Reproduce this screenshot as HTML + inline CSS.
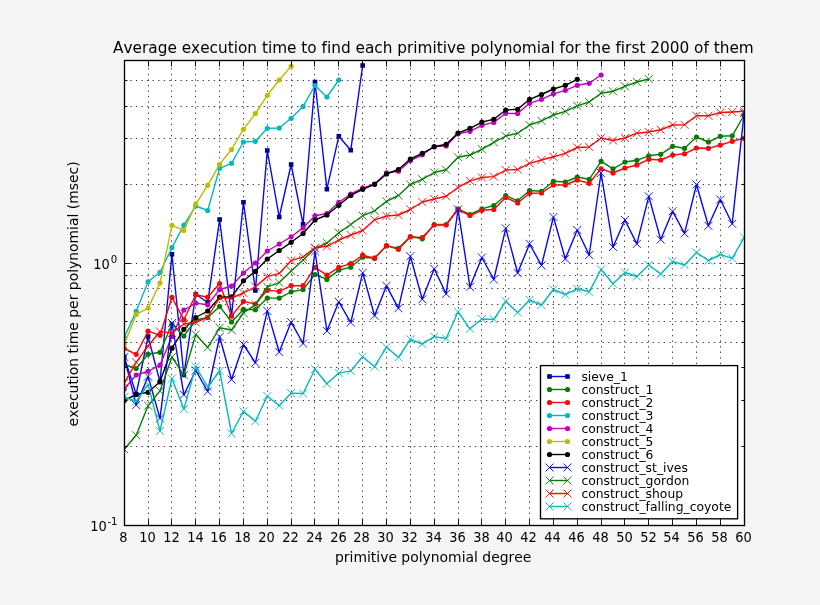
<!DOCTYPE html>
<html><head><meta charset="utf-8"><title>Average execution time</title>
<style>html,body{margin:0;padding:0;background:#f5f5f5}svg{display:block}</style></head>
<body>
<svg width="820" height="605" viewBox="0 0 820 605" style="display:block">
<rect width="820" height="605" fill="#f5f5f5"/>
<rect x="124.5" y="60.5" width="620.0" height="465.0" fill="#ffffff"/>
<path d="M148.50 525.5V60.5M171.50 525.5V60.5M195.50 525.5V60.5M219.50 525.5V60.5M243.50 525.5V60.5M267.50 525.5V60.5M291.50 525.5V60.5M314.50 525.5V60.5M338.50 525.5V60.5M362.50 525.5V60.5M386.50 525.5V60.5M410.50 525.5V60.5M434.50 525.5V60.5M458.50 525.5V60.5M481.50 525.5V60.5M505.50 525.5V60.5M529.50 525.5V60.5M553.50 525.5V60.5M577.50 525.5V60.5M601.50 525.5V60.5M624.50 525.5V60.5M648.50 525.5V60.5M672.50 525.5V60.5M696.50 525.5V60.5M720.50 525.5V60.5M124.5 446.50H744.5M124.5 400.50H744.5M124.5 367.50H744.5M124.5 342.50H744.5M124.5 321.50H744.5M124.5 304.50H744.5M124.5 288.50H744.5M124.5 275.50H744.5M124.5 263.50H744.5M124.5 184.50H744.5M124.5 138.50H744.5M124.5 106.50H744.5M124.5 80.50H744.5" stroke="#000" stroke-width="0.75" stroke-dasharray="1.39 4.166" stroke-dashoffset="-0.3" fill="none"/>
<clipPath id="cp"><rect x="124.5" y="60.5" width="620.0" height="465.0"/></clipPath>
<g clip-path="url(#cp)">
<polyline points="124.25,357.00 136.17,394.30 148.09,336.50 160.01,382.00 171.93,254.30 183.85,375.00 195.78,294.20 207.70,302.50 219.62,219.50 231.54,316.00 243.46,202.30 255.38,290.50 267.30,150.50 279.22,217.00 291.14,164.50 303.06,224.30 314.99,82.00 326.91,189.20 338.83,136.20 350.75,150.20 362.67,65.50" fill="none" stroke="#0808e8" stroke-width="1.4" stroke-linejoin="round"/>
<rect x="121.95" y="354.70" width="4.6" height="4.6" fill="#00008b"/><rect x="133.87" y="392.00" width="4.6" height="4.6" fill="#00008b"/><rect x="145.79" y="334.20" width="4.6" height="4.6" fill="#00008b"/><rect x="157.71" y="379.70" width="4.6" height="4.6" fill="#00008b"/><rect x="169.63" y="252.00" width="4.6" height="4.6" fill="#00008b"/><rect x="181.55" y="372.70" width="4.6" height="4.6" fill="#00008b"/><rect x="193.48" y="291.90" width="4.6" height="4.6" fill="#00008b"/><rect x="205.40" y="300.20" width="4.6" height="4.6" fill="#00008b"/><rect x="217.32" y="217.20" width="4.6" height="4.6" fill="#00008b"/><rect x="229.24" y="313.70" width="4.6" height="4.6" fill="#00008b"/><rect x="241.16" y="200.00" width="4.6" height="4.6" fill="#00008b"/><rect x="253.08" y="288.20" width="4.6" height="4.6" fill="#00008b"/><rect x="265.00" y="148.20" width="4.6" height="4.6" fill="#00008b"/><rect x="276.92" y="214.70" width="4.6" height="4.6" fill="#00008b"/><rect x="288.84" y="162.20" width="4.6" height="4.6" fill="#00008b"/><rect x="300.76" y="222.00" width="4.6" height="4.6" fill="#00008b"/><rect x="312.69" y="79.70" width="4.6" height="4.6" fill="#00008b"/><rect x="324.61" y="186.90" width="4.6" height="4.6" fill="#00008b"/><rect x="336.53" y="133.90" width="4.6" height="4.6" fill="#00008b"/><rect x="348.45" y="147.90" width="4.6" height="4.6" fill="#00008b"/><rect x="360.37" y="63.20" width="4.6" height="4.6" fill="#00008b"/>
<polyline points="124.25,364.50 136.17,368.50 148.09,354.20 160.01,352.30 171.93,324.00 183.85,336.00 195.78,320.00 207.70,317.50 219.62,306.40 231.54,322.00 243.46,309.40 255.38,309.70 267.30,298.10 279.22,298.10 291.14,291.80 303.06,289.60 314.99,274.50 326.91,279.40 338.83,270.10 350.75,267.20 362.67,257.20 374.59,258.20 386.51,245.90 398.43,248.30 410.35,236.50 422.27,238.80 434.20,224.50 446.12,224.50 458.04,208.80 469.96,214.50 481.88,208.80 493.80,205.50 505.72,195.50 517.64,200.80 529.56,190.50 541.48,191.30 553.41,181.30 565.33,182.00 577.25,177.00 589.17,179.30 601.09,161.30 613.01,168.80 624.93,162.00 636.85,160.30 648.77,155.80 660.69,154.30 672.62,146.30 684.54,148.30 696.46,137.00 708.38,142.00 720.30,136.30 732.22,135.80 744.14,115.00" fill="none" stroke="#067c06" stroke-width="1.4" stroke-linejoin="round"/>
<circle cx="124.25" cy="364.50" r="2.6" fill="#067c06"/><circle cx="136.17" cy="368.50" r="2.6" fill="#067c06"/><circle cx="148.09" cy="354.20" r="2.6" fill="#067c06"/><circle cx="160.01" cy="352.30" r="2.6" fill="#067c06"/><circle cx="171.93" cy="324.00" r="2.6" fill="#067c06"/><circle cx="183.85" cy="336.00" r="2.6" fill="#067c06"/><circle cx="195.78" cy="320.00" r="2.6" fill="#067c06"/><circle cx="207.70" cy="317.50" r="2.6" fill="#067c06"/><circle cx="219.62" cy="306.40" r="2.6" fill="#067c06"/><circle cx="231.54" cy="322.00" r="2.6" fill="#067c06"/><circle cx="243.46" cy="309.40" r="2.6" fill="#067c06"/><circle cx="255.38" cy="309.70" r="2.6" fill="#067c06"/><circle cx="267.30" cy="298.10" r="2.6" fill="#067c06"/><circle cx="279.22" cy="298.10" r="2.6" fill="#067c06"/><circle cx="291.14" cy="291.80" r="2.6" fill="#067c06"/><circle cx="303.06" cy="289.60" r="2.6" fill="#067c06"/><circle cx="314.99" cy="274.50" r="2.6" fill="#067c06"/><circle cx="326.91" cy="279.40" r="2.6" fill="#067c06"/><circle cx="338.83" cy="270.10" r="2.6" fill="#067c06"/><circle cx="350.75" cy="267.20" r="2.6" fill="#067c06"/><circle cx="362.67" cy="257.20" r="2.6" fill="#067c06"/><circle cx="374.59" cy="258.20" r="2.6" fill="#067c06"/><circle cx="386.51" cy="245.90" r="2.6" fill="#067c06"/><circle cx="398.43" cy="248.30" r="2.6" fill="#067c06"/><circle cx="410.35" cy="236.50" r="2.6" fill="#067c06"/><circle cx="422.27" cy="238.80" r="2.6" fill="#067c06"/><circle cx="434.20" cy="224.50" r="2.6" fill="#067c06"/><circle cx="446.12" cy="224.50" r="2.6" fill="#067c06"/><circle cx="458.04" cy="208.80" r="2.6" fill="#067c06"/><circle cx="469.96" cy="214.50" r="2.6" fill="#067c06"/><circle cx="481.88" cy="208.80" r="2.6" fill="#067c06"/><circle cx="493.80" cy="205.50" r="2.6" fill="#067c06"/><circle cx="505.72" cy="195.50" r="2.6" fill="#067c06"/><circle cx="517.64" cy="200.80" r="2.6" fill="#067c06"/><circle cx="529.56" cy="190.50" r="2.6" fill="#067c06"/><circle cx="541.48" cy="191.30" r="2.6" fill="#067c06"/><circle cx="553.41" cy="181.30" r="2.6" fill="#067c06"/><circle cx="565.33" cy="182.00" r="2.6" fill="#067c06"/><circle cx="577.25" cy="177.00" r="2.6" fill="#067c06"/><circle cx="589.17" cy="179.30" r="2.6" fill="#067c06"/><circle cx="601.09" cy="161.30" r="2.6" fill="#067c06"/><circle cx="613.01" cy="168.80" r="2.6" fill="#067c06"/><circle cx="624.93" cy="162.00" r="2.6" fill="#067c06"/><circle cx="636.85" cy="160.30" r="2.6" fill="#067c06"/><circle cx="648.77" cy="155.80" r="2.6" fill="#067c06"/><circle cx="660.69" cy="154.30" r="2.6" fill="#067c06"/><circle cx="672.62" cy="146.30" r="2.6" fill="#067c06"/><circle cx="684.54" cy="148.30" r="2.6" fill="#067c06"/><circle cx="696.46" cy="137.00" r="2.6" fill="#067c06"/><circle cx="708.38" cy="142.00" r="2.6" fill="#067c06"/><circle cx="720.30" cy="136.30" r="2.6" fill="#067c06"/><circle cx="732.22" cy="135.80" r="2.6" fill="#067c06"/><circle cx="744.14" cy="115.00" r="2.6" fill="#067c06"/>
<polyline points="124.25,348.50 136.17,354.30 148.09,331.20 160.01,335.30 171.93,297.30 183.85,319.70 195.78,294.80 207.70,297.20 219.62,283.50 231.54,316.00 243.46,301.40 255.38,304.00 267.30,290.30 279.22,291.40 291.14,285.60 303.06,285.70 314.99,267.40 326.91,275.20 338.83,267.40 350.75,263.60 362.67,255.20 374.59,258.20 386.51,245.50 398.43,249.30 410.35,237.00 422.27,237.50 434.20,225.00 446.12,225.00 458.04,209.50 469.96,215.50 481.88,210.30 493.80,209.50 505.72,197.50 517.64,203.00 529.56,193.30 541.48,193.00 553.41,185.00 565.33,185.00 577.25,180.00 589.17,183.30 601.09,168.80 613.01,173.00 624.93,168.00 636.85,165.00 648.77,159.30 660.69,160.00 672.62,155.00 684.54,153.80 696.46,148.00 708.38,148.30 720.30,145.00 732.22,141.30 744.14,138.30" fill="none" stroke="#f40a0a" stroke-width="1.4" stroke-linejoin="round"/>
<circle cx="124.25" cy="348.50" r="2.6" fill="#f40a0a"/><circle cx="136.17" cy="354.30" r="2.6" fill="#f40a0a"/><circle cx="148.09" cy="331.20" r="2.6" fill="#f40a0a"/><circle cx="160.01" cy="335.30" r="2.6" fill="#f40a0a"/><circle cx="171.93" cy="297.30" r="2.6" fill="#f40a0a"/><circle cx="183.85" cy="319.70" r="2.6" fill="#f40a0a"/><circle cx="195.78" cy="294.80" r="2.6" fill="#f40a0a"/><circle cx="207.70" cy="297.20" r="2.6" fill="#f40a0a"/><circle cx="219.62" cy="283.50" r="2.6" fill="#f40a0a"/><circle cx="231.54" cy="316.00" r="2.6" fill="#f40a0a"/><circle cx="243.46" cy="301.40" r="2.6" fill="#f40a0a"/><circle cx="255.38" cy="304.00" r="2.6" fill="#f40a0a"/><circle cx="267.30" cy="290.30" r="2.6" fill="#f40a0a"/><circle cx="279.22" cy="291.40" r="2.6" fill="#f40a0a"/><circle cx="291.14" cy="285.60" r="2.6" fill="#f40a0a"/><circle cx="303.06" cy="285.70" r="2.6" fill="#f40a0a"/><circle cx="314.99" cy="267.40" r="2.6" fill="#f40a0a"/><circle cx="326.91" cy="275.20" r="2.6" fill="#f40a0a"/><circle cx="338.83" cy="267.40" r="2.6" fill="#f40a0a"/><circle cx="350.75" cy="263.60" r="2.6" fill="#f40a0a"/><circle cx="362.67" cy="255.20" r="2.6" fill="#f40a0a"/><circle cx="374.59" cy="258.20" r="2.6" fill="#f40a0a"/><circle cx="386.51" cy="245.50" r="2.6" fill="#f40a0a"/><circle cx="398.43" cy="249.30" r="2.6" fill="#f40a0a"/><circle cx="410.35" cy="237.00" r="2.6" fill="#f40a0a"/><circle cx="422.27" cy="237.50" r="2.6" fill="#f40a0a"/><circle cx="434.20" cy="225.00" r="2.6" fill="#f40a0a"/><circle cx="446.12" cy="225.00" r="2.6" fill="#f40a0a"/><circle cx="458.04" cy="209.50" r="2.6" fill="#f40a0a"/><circle cx="469.96" cy="215.50" r="2.6" fill="#f40a0a"/><circle cx="481.88" cy="210.30" r="2.6" fill="#f40a0a"/><circle cx="493.80" cy="209.50" r="2.6" fill="#f40a0a"/><circle cx="505.72" cy="197.50" r="2.6" fill="#f40a0a"/><circle cx="517.64" cy="203.00" r="2.6" fill="#f40a0a"/><circle cx="529.56" cy="193.30" r="2.6" fill="#f40a0a"/><circle cx="541.48" cy="193.00" r="2.6" fill="#f40a0a"/><circle cx="553.41" cy="185.00" r="2.6" fill="#f40a0a"/><circle cx="565.33" cy="185.00" r="2.6" fill="#f40a0a"/><circle cx="577.25" cy="180.00" r="2.6" fill="#f40a0a"/><circle cx="589.17" cy="183.30" r="2.6" fill="#f40a0a"/><circle cx="601.09" cy="168.80" r="2.6" fill="#f40a0a"/><circle cx="613.01" cy="173.00" r="2.6" fill="#f40a0a"/><circle cx="624.93" cy="168.00" r="2.6" fill="#f40a0a"/><circle cx="636.85" cy="165.00" r="2.6" fill="#f40a0a"/><circle cx="648.77" cy="159.30" r="2.6" fill="#f40a0a"/><circle cx="660.69" cy="160.00" r="2.6" fill="#f40a0a"/><circle cx="672.62" cy="155.00" r="2.6" fill="#f40a0a"/><circle cx="684.54" cy="153.80" r="2.6" fill="#f40a0a"/><circle cx="696.46" cy="148.00" r="2.6" fill="#f40a0a"/><circle cx="708.38" cy="148.30" r="2.6" fill="#f40a0a"/><circle cx="720.30" cy="145.00" r="2.6" fill="#f40a0a"/><circle cx="732.22" cy="141.30" r="2.6" fill="#f40a0a"/><circle cx="744.14" cy="138.30" r="2.6" fill="#f40a0a"/>
<polyline points="124.25,337.50 136.17,311.40 148.09,281.80 160.01,272.30 171.93,247.60 183.85,225.20 195.78,206.00 207.70,210.50 219.62,168.30 231.54,163.30 243.46,142.00 255.38,141.30 267.30,128.30 279.22,128.00 291.14,118.30 303.06,106.40 314.99,85.50 326.91,97.00 338.83,80.00" fill="none" stroke="#06b8bc" stroke-width="1.4" stroke-linejoin="round"/>
<circle cx="124.25" cy="337.50" r="2.6" fill="#06b8bc"/><circle cx="136.17" cy="311.40" r="2.6" fill="#06b8bc"/><circle cx="148.09" cy="281.80" r="2.6" fill="#06b8bc"/><circle cx="160.01" cy="272.30" r="2.6" fill="#06b8bc"/><circle cx="171.93" cy="247.60" r="2.6" fill="#06b8bc"/><circle cx="183.85" cy="225.20" r="2.6" fill="#06b8bc"/><circle cx="195.78" cy="206.00" r="2.6" fill="#06b8bc"/><circle cx="207.70" cy="210.50" r="2.6" fill="#06b8bc"/><circle cx="219.62" cy="168.30" r="2.6" fill="#06b8bc"/><circle cx="231.54" cy="163.30" r="2.6" fill="#06b8bc"/><circle cx="243.46" cy="142.00" r="2.6" fill="#06b8bc"/><circle cx="255.38" cy="141.30" r="2.6" fill="#06b8bc"/><circle cx="267.30" cy="128.30" r="2.6" fill="#06b8bc"/><circle cx="279.22" cy="128.00" r="2.6" fill="#06b8bc"/><circle cx="291.14" cy="118.30" r="2.6" fill="#06b8bc"/><circle cx="303.06" cy="106.40" r="2.6" fill="#06b8bc"/><circle cx="314.99" cy="85.50" r="2.6" fill="#06b8bc"/><circle cx="326.91" cy="97.00" r="2.6" fill="#06b8bc"/><circle cx="338.83" cy="80.00" r="2.6" fill="#06b8bc"/>
<polyline points="124.25,389.00 136.17,375.00 148.09,371.30 160.01,365.00 171.93,336.50 183.85,310.00 195.78,303.10 207.70,304.80 219.62,289.40 231.54,286.10 243.46,273.00 255.38,263.00 267.30,251.00 279.22,244.00 291.14,236.80 303.06,227.90 314.99,215.80 326.91,213.50 338.83,202.30 350.75,194.00 362.67,188.20 374.59,184.00 386.51,172.80 398.43,171.20 410.35,160.50 422.27,154.80 434.20,146.50 446.12,146.00 458.04,133.80 469.96,131.30 481.88,125.30 493.80,122.40 505.72,113.30 517.64,113.50 529.56,103.30 541.48,99.30 553.41,93.80 565.33,90.30 577.25,85.30 589.17,83.30 601.09,75.00" fill="none" stroke="#bb06bb" stroke-width="1.4" stroke-linejoin="round"/>
<circle cx="124.25" cy="389.00" r="2.6" fill="#bb06bb"/><circle cx="136.17" cy="375.00" r="2.6" fill="#bb06bb"/><circle cx="148.09" cy="371.30" r="2.6" fill="#bb06bb"/><circle cx="160.01" cy="365.00" r="2.6" fill="#bb06bb"/><circle cx="171.93" cy="336.50" r="2.6" fill="#bb06bb"/><circle cx="183.85" cy="310.00" r="2.6" fill="#bb06bb"/><circle cx="195.78" cy="303.10" r="2.6" fill="#bb06bb"/><circle cx="207.70" cy="304.80" r="2.6" fill="#bb06bb"/><circle cx="219.62" cy="289.40" r="2.6" fill="#bb06bb"/><circle cx="231.54" cy="286.10" r="2.6" fill="#bb06bb"/><circle cx="243.46" cy="273.00" r="2.6" fill="#bb06bb"/><circle cx="255.38" cy="263.00" r="2.6" fill="#bb06bb"/><circle cx="267.30" cy="251.00" r="2.6" fill="#bb06bb"/><circle cx="279.22" cy="244.00" r="2.6" fill="#bb06bb"/><circle cx="291.14" cy="236.80" r="2.6" fill="#bb06bb"/><circle cx="303.06" cy="227.90" r="2.6" fill="#bb06bb"/><circle cx="314.99" cy="215.80" r="2.6" fill="#bb06bb"/><circle cx="326.91" cy="213.50" r="2.6" fill="#bb06bb"/><circle cx="338.83" cy="202.30" r="2.6" fill="#bb06bb"/><circle cx="350.75" cy="194.00" r="2.6" fill="#bb06bb"/><circle cx="362.67" cy="188.20" r="2.6" fill="#bb06bb"/><circle cx="374.59" cy="184.00" r="2.6" fill="#bb06bb"/><circle cx="386.51" cy="172.80" r="2.6" fill="#bb06bb"/><circle cx="398.43" cy="171.20" r="2.6" fill="#bb06bb"/><circle cx="410.35" cy="160.50" r="2.6" fill="#bb06bb"/><circle cx="422.27" cy="154.80" r="2.6" fill="#bb06bb"/><circle cx="434.20" cy="146.50" r="2.6" fill="#bb06bb"/><circle cx="446.12" cy="146.00" r="2.6" fill="#bb06bb"/><circle cx="458.04" cy="133.80" r="2.6" fill="#bb06bb"/><circle cx="469.96" cy="131.30" r="2.6" fill="#bb06bb"/><circle cx="481.88" cy="125.30" r="2.6" fill="#bb06bb"/><circle cx="493.80" cy="122.40" r="2.6" fill="#bb06bb"/><circle cx="505.72" cy="113.30" r="2.6" fill="#bb06bb"/><circle cx="517.64" cy="113.50" r="2.6" fill="#bb06bb"/><circle cx="529.56" cy="103.30" r="2.6" fill="#bb06bb"/><circle cx="541.48" cy="99.30" r="2.6" fill="#bb06bb"/><circle cx="553.41" cy="93.80" r="2.6" fill="#bb06bb"/><circle cx="565.33" cy="90.30" r="2.6" fill="#bb06bb"/><circle cx="577.25" cy="85.30" r="2.6" fill="#bb06bb"/><circle cx="589.17" cy="83.30" r="2.6" fill="#bb06bb"/><circle cx="601.09" cy="75.00" r="2.6" fill="#bb06bb"/>
<polyline points="124.25,344.50 136.17,314.40 148.09,308.10 160.01,283.10 171.93,225.30 183.85,230.40 195.78,204.10 207.70,185.30 219.62,164.30 231.54,149.50 243.46,129.30 255.38,113.50 267.30,95.30 279.22,80.00 291.14,66.30" fill="none" stroke="#bcbc06" stroke-width="1.4" stroke-linejoin="round"/>
<circle cx="124.25" cy="344.50" r="2.6" fill="#bcbc06"/><circle cx="136.17" cy="314.40" r="2.6" fill="#bcbc06"/><circle cx="148.09" cy="308.10" r="2.6" fill="#bcbc06"/><circle cx="160.01" cy="283.10" r="2.6" fill="#bcbc06"/><circle cx="171.93" cy="225.30" r="2.6" fill="#bcbc06"/><circle cx="183.85" cy="230.40" r="2.6" fill="#bcbc06"/><circle cx="195.78" cy="204.10" r="2.6" fill="#bcbc06"/><circle cx="207.70" cy="185.30" r="2.6" fill="#bcbc06"/><circle cx="219.62" cy="164.30" r="2.6" fill="#bcbc06"/><circle cx="231.54" cy="149.50" r="2.6" fill="#bcbc06"/><circle cx="243.46" cy="129.30" r="2.6" fill="#bcbc06"/><circle cx="255.38" cy="113.50" r="2.6" fill="#bcbc06"/><circle cx="267.30" cy="95.30" r="2.6" fill="#bcbc06"/><circle cx="279.22" cy="80.00" r="2.6" fill="#bcbc06"/><circle cx="291.14" cy="66.30" r="2.6" fill="#bcbc06"/>
<polyline points="124.25,400.40 136.17,394.50 148.09,392.30 160.01,381.70 171.93,348.20 183.85,329.30 195.78,317.50 207.70,311.00 219.62,297.20 231.54,296.80 243.46,280.80 255.38,271.30 267.30,259.00 279.22,250.50 291.14,242.30 303.06,233.50 314.99,220.00 326.91,215.00 338.83,205.30 350.75,195.40 362.67,189.30 374.59,184.30 386.51,174.00 398.43,169.50 410.35,159.00 422.27,153.30 434.20,146.80 446.12,144.30 458.04,133.00 469.96,128.30 481.88,122.10 493.80,119.30 505.72,110.00 517.64,109.30 529.56,99.30 541.48,94.50 553.41,89.00 565.33,85.30 577.25,79.30" fill="none" stroke="#000000" stroke-width="1.4" stroke-linejoin="round"/>
<circle cx="124.25" cy="400.40" r="2.6" fill="#000000"/><circle cx="136.17" cy="394.50" r="2.6" fill="#000000"/><circle cx="148.09" cy="392.30" r="2.6" fill="#000000"/><circle cx="160.01" cy="381.70" r="2.6" fill="#000000"/><circle cx="171.93" cy="348.20" r="2.6" fill="#000000"/><circle cx="183.85" cy="329.30" r="2.6" fill="#000000"/><circle cx="195.78" cy="317.50" r="2.6" fill="#000000"/><circle cx="207.70" cy="311.00" r="2.6" fill="#000000"/><circle cx="219.62" cy="297.20" r="2.6" fill="#000000"/><circle cx="231.54" cy="296.80" r="2.6" fill="#000000"/><circle cx="243.46" cy="280.80" r="2.6" fill="#000000"/><circle cx="255.38" cy="271.30" r="2.6" fill="#000000"/><circle cx="267.30" cy="259.00" r="2.6" fill="#000000"/><circle cx="279.22" cy="250.50" r="2.6" fill="#000000"/><circle cx="291.14" cy="242.30" r="2.6" fill="#000000"/><circle cx="303.06" cy="233.50" r="2.6" fill="#000000"/><circle cx="314.99" cy="220.00" r="2.6" fill="#000000"/><circle cx="326.91" cy="215.00" r="2.6" fill="#000000"/><circle cx="338.83" cy="205.30" r="2.6" fill="#000000"/><circle cx="350.75" cy="195.40" r="2.6" fill="#000000"/><circle cx="362.67" cy="189.30" r="2.6" fill="#000000"/><circle cx="374.59" cy="184.30" r="2.6" fill="#000000"/><circle cx="386.51" cy="174.00" r="2.6" fill="#000000"/><circle cx="398.43" cy="169.50" r="2.6" fill="#000000"/><circle cx="410.35" cy="159.00" r="2.6" fill="#000000"/><circle cx="422.27" cy="153.30" r="2.6" fill="#000000"/><circle cx="434.20" cy="146.80" r="2.6" fill="#000000"/><circle cx="446.12" cy="144.30" r="2.6" fill="#000000"/><circle cx="458.04" cy="133.00" r="2.6" fill="#000000"/><circle cx="469.96" cy="128.30" r="2.6" fill="#000000"/><circle cx="481.88" cy="122.10" r="2.6" fill="#000000"/><circle cx="493.80" cy="119.30" r="2.6" fill="#000000"/><circle cx="505.72" cy="110.00" r="2.6" fill="#000000"/><circle cx="517.64" cy="109.30" r="2.6" fill="#000000"/><circle cx="529.56" cy="99.30" r="2.6" fill="#000000"/><circle cx="541.48" cy="94.50" r="2.6" fill="#000000"/><circle cx="553.41" cy="89.00" r="2.6" fill="#000000"/><circle cx="565.33" cy="85.30" r="2.6" fill="#000000"/><circle cx="577.25" cy="79.30" r="2.6" fill="#000000"/>
<polyline points="124.25,357.00 136.17,405.00 148.09,376.50 160.01,418.40 171.93,323.00 183.85,394.70 195.78,370.50 207.70,391.50 219.62,337.00 231.54,379.50 243.46,344.50 255.38,362.80 267.30,310.90 279.22,352.00 291.14,322.10 303.06,343.50 314.99,251.50 326.91,331.00 338.83,301.80 350.75,322.50 362.67,272.80 374.59,315.70 386.51,285.80 398.43,308.30 410.35,256.30 422.27,299.30 434.20,268.80 446.12,293.80 458.04,209.50 469.96,286.80 481.88,257.50 493.80,279.50 505.72,228.30 517.64,273.00 529.56,243.80 541.48,265.50 553.41,217.00 565.33,258.80 577.25,230.00 589.17,255.00 601.09,173.00 613.01,247.00 624.93,220.00 636.85,243.90 648.77,196.30 660.69,239.60 672.62,211.30 684.54,233.40 696.46,184.50 708.38,225.80 720.30,199.50 732.22,223.80 744.14,113.00" fill="none" stroke="#0808e8" stroke-width="1.4" stroke-linejoin="round"/>
<path d="M120.25 353.00L128.25 361.00M120.25 361.00L128.25 353.00" stroke="#0808e8" stroke-width="0.9" fill="none"/><path d="M132.17 401.00L140.17 409.00M132.17 409.00L140.17 401.00" stroke="#0808e8" stroke-width="0.9" fill="none"/><path d="M144.09 372.50L152.09 380.50M144.09 380.50L152.09 372.50" stroke="#0808e8" stroke-width="0.9" fill="none"/><path d="M156.01 414.40L164.01 422.40M156.01 422.40L164.01 414.40" stroke="#0808e8" stroke-width="0.9" fill="none"/><path d="M167.93 319.00L175.93 327.00M167.93 327.00L175.93 319.00" stroke="#0808e8" stroke-width="0.9" fill="none"/><path d="M179.85 390.70L187.85 398.70M179.85 398.70L187.85 390.70" stroke="#0808e8" stroke-width="0.9" fill="none"/><path d="M191.78 366.50L199.78 374.50M191.78 374.50L199.78 366.50" stroke="#0808e8" stroke-width="0.9" fill="none"/><path d="M203.70 387.50L211.70 395.50M203.70 395.50L211.70 387.50" stroke="#0808e8" stroke-width="0.9" fill="none"/><path d="M215.62 333.00L223.62 341.00M215.62 341.00L223.62 333.00" stroke="#0808e8" stroke-width="0.9" fill="none"/><path d="M227.54 375.50L235.54 383.50M227.54 383.50L235.54 375.50" stroke="#0808e8" stroke-width="0.9" fill="none"/><path d="M239.46 340.50L247.46 348.50M239.46 348.50L247.46 340.50" stroke="#0808e8" stroke-width="0.9" fill="none"/><path d="M251.38 358.80L259.38 366.80M251.38 366.80L259.38 358.80" stroke="#0808e8" stroke-width="0.9" fill="none"/><path d="M263.30 306.90L271.30 314.90M263.30 314.90L271.30 306.90" stroke="#0808e8" stroke-width="0.9" fill="none"/><path d="M275.22 348.00L283.22 356.00M275.22 356.00L283.22 348.00" stroke="#0808e8" stroke-width="0.9" fill="none"/><path d="M287.14 318.10L295.14 326.10M287.14 326.10L295.14 318.10" stroke="#0808e8" stroke-width="0.9" fill="none"/><path d="M299.06 339.50L307.06 347.50M299.06 347.50L307.06 339.50" stroke="#0808e8" stroke-width="0.9" fill="none"/><path d="M310.99 247.50L318.99 255.50M310.99 255.50L318.99 247.50" stroke="#0808e8" stroke-width="0.9" fill="none"/><path d="M322.91 327.00L330.91 335.00M322.91 335.00L330.91 327.00" stroke="#0808e8" stroke-width="0.9" fill="none"/><path d="M334.83 297.80L342.83 305.80M334.83 305.80L342.83 297.80" stroke="#0808e8" stroke-width="0.9" fill="none"/><path d="M346.75 318.50L354.75 326.50M346.75 326.50L354.75 318.50" stroke="#0808e8" stroke-width="0.9" fill="none"/><path d="M358.67 268.80L366.67 276.80M358.67 276.80L366.67 268.80" stroke="#0808e8" stroke-width="0.9" fill="none"/><path d="M370.59 311.70L378.59 319.70M370.59 319.70L378.59 311.70" stroke="#0808e8" stroke-width="0.9" fill="none"/><path d="M382.51 281.80L390.51 289.80M382.51 289.80L390.51 281.80" stroke="#0808e8" stroke-width="0.9" fill="none"/><path d="M394.43 304.30L402.43 312.30M394.43 312.30L402.43 304.30" stroke="#0808e8" stroke-width="0.9" fill="none"/><path d="M406.35 252.30L414.35 260.30M406.35 260.30L414.35 252.30" stroke="#0808e8" stroke-width="0.9" fill="none"/><path d="M418.27 295.30L426.27 303.30M418.27 303.30L426.27 295.30" stroke="#0808e8" stroke-width="0.9" fill="none"/><path d="M430.20 264.80L438.20 272.80M430.20 272.80L438.20 264.80" stroke="#0808e8" stroke-width="0.9" fill="none"/><path d="M442.12 289.80L450.12 297.80M442.12 297.80L450.12 289.80" stroke="#0808e8" stroke-width="0.9" fill="none"/><path d="M454.04 205.50L462.04 213.50M454.04 213.50L462.04 205.50" stroke="#0808e8" stroke-width="0.9" fill="none"/><path d="M465.96 282.80L473.96 290.80M465.96 290.80L473.96 282.80" stroke="#0808e8" stroke-width="0.9" fill="none"/><path d="M477.88 253.50L485.88 261.50M477.88 261.50L485.88 253.50" stroke="#0808e8" stroke-width="0.9" fill="none"/><path d="M489.80 275.50L497.80 283.50M489.80 283.50L497.80 275.50" stroke="#0808e8" stroke-width="0.9" fill="none"/><path d="M501.72 224.30L509.72 232.30M501.72 232.30L509.72 224.30" stroke="#0808e8" stroke-width="0.9" fill="none"/><path d="M513.64 269.00L521.64 277.00M513.64 277.00L521.64 269.00" stroke="#0808e8" stroke-width="0.9" fill="none"/><path d="M525.56 239.80L533.56 247.80M525.56 247.80L533.56 239.80" stroke="#0808e8" stroke-width="0.9" fill="none"/><path d="M537.48 261.50L545.48 269.50M537.48 269.50L545.48 261.50" stroke="#0808e8" stroke-width="0.9" fill="none"/><path d="M549.41 213.00L557.41 221.00M549.41 221.00L557.41 213.00" stroke="#0808e8" stroke-width="0.9" fill="none"/><path d="M561.33 254.80L569.33 262.80M561.33 262.80L569.33 254.80" stroke="#0808e8" stroke-width="0.9" fill="none"/><path d="M573.25 226.00L581.25 234.00M573.25 234.00L581.25 226.00" stroke="#0808e8" stroke-width="0.9" fill="none"/><path d="M585.17 251.00L593.17 259.00M585.17 259.00L593.17 251.00" stroke="#0808e8" stroke-width="0.9" fill="none"/><path d="M597.09 169.00L605.09 177.00M597.09 177.00L605.09 169.00" stroke="#0808e8" stroke-width="0.9" fill="none"/><path d="M609.01 243.00L617.01 251.00M609.01 251.00L617.01 243.00" stroke="#0808e8" stroke-width="0.9" fill="none"/><path d="M620.93 216.00L628.93 224.00M620.93 224.00L628.93 216.00" stroke="#0808e8" stroke-width="0.9" fill="none"/><path d="M632.85 239.90L640.85 247.90M632.85 247.90L640.85 239.90" stroke="#0808e8" stroke-width="0.9" fill="none"/><path d="M644.77 192.30L652.77 200.30M644.77 200.30L652.77 192.30" stroke="#0808e8" stroke-width="0.9" fill="none"/><path d="M656.69 235.60L664.69 243.60M656.69 243.60L664.69 235.60" stroke="#0808e8" stroke-width="0.9" fill="none"/><path d="M668.62 207.30L676.62 215.30M668.62 215.30L676.62 207.30" stroke="#0808e8" stroke-width="0.9" fill="none"/><path d="M680.54 229.40L688.54 237.40M680.54 237.40L688.54 229.40" stroke="#0808e8" stroke-width="0.9" fill="none"/><path d="M692.46 180.50L700.46 188.50M692.46 188.50L700.46 180.50" stroke="#0808e8" stroke-width="0.9" fill="none"/><path d="M704.38 221.80L712.38 229.80M704.38 229.80L712.38 221.80" stroke="#0808e8" stroke-width="0.9" fill="none"/><path d="M716.30 195.50L724.30 203.50M716.30 203.50L724.30 195.50" stroke="#0808e8" stroke-width="0.9" fill="none"/><path d="M728.22 219.80L736.22 227.80M728.22 227.80L736.22 219.80" stroke="#0808e8" stroke-width="0.9" fill="none"/><path d="M740.14 109.00L748.14 117.00M740.14 117.00L748.14 109.00" stroke="#0808e8" stroke-width="0.9" fill="none"/>
<polyline points="124.25,449.30 136.17,435.30 148.09,405.70 160.01,390.90 171.93,357.10 183.85,375.10 195.78,334.50 207.70,347.50 219.62,327.80 231.54,330.00 243.46,313.00 255.38,304.50 267.30,286.80 279.22,282.60 291.14,270.90 303.06,260.10 314.99,248.40 326.91,243.00 338.83,232.80 350.75,224.50 362.67,215.70 374.59,210.80 386.51,201.30 398.43,195.50 410.35,184.50 422.27,179.30 434.20,172.50 446.12,169.80 458.04,157.30 469.96,155.00 481.88,149.30 493.80,142.30 505.72,136.00 517.64,133.30 529.56,125.00 541.48,120.80 553.41,115.00 565.33,111.30 577.25,105.80 589.17,102.00 601.09,93.30 613.01,91.30 624.93,86.30 636.85,82.00 648.77,79.00" fill="none" stroke="#067c06" stroke-width="1.4" stroke-linejoin="round"/>
<path d="M120.25 445.30L128.25 453.30M120.25 453.30L128.25 445.30" stroke="#067c06" stroke-width="0.9" fill="none"/><path d="M132.17 431.30L140.17 439.30M132.17 439.30L140.17 431.30" stroke="#067c06" stroke-width="0.9" fill="none"/><path d="M144.09 401.70L152.09 409.70M144.09 409.70L152.09 401.70" stroke="#067c06" stroke-width="0.9" fill="none"/><path d="M156.01 386.90L164.01 394.90M156.01 394.90L164.01 386.90" stroke="#067c06" stroke-width="0.9" fill="none"/><path d="M167.93 353.10L175.93 361.10M167.93 361.10L175.93 353.10" stroke="#067c06" stroke-width="0.9" fill="none"/><path d="M179.85 371.10L187.85 379.10M179.85 379.10L187.85 371.10" stroke="#067c06" stroke-width="0.9" fill="none"/><path d="M191.78 330.50L199.78 338.50M191.78 338.50L199.78 330.50" stroke="#067c06" stroke-width="0.9" fill="none"/><path d="M203.70 343.50L211.70 351.50M203.70 351.50L211.70 343.50" stroke="#067c06" stroke-width="0.9" fill="none"/><path d="M215.62 323.80L223.62 331.80M215.62 331.80L223.62 323.80" stroke="#067c06" stroke-width="0.9" fill="none"/><path d="M227.54 326.00L235.54 334.00M227.54 334.00L235.54 326.00" stroke="#067c06" stroke-width="0.9" fill="none"/><path d="M239.46 309.00L247.46 317.00M239.46 317.00L247.46 309.00" stroke="#067c06" stroke-width="0.9" fill="none"/><path d="M251.38 300.50L259.38 308.50M251.38 308.50L259.38 300.50" stroke="#067c06" stroke-width="0.9" fill="none"/><path d="M263.30 282.80L271.30 290.80M263.30 290.80L271.30 282.80" stroke="#067c06" stroke-width="0.9" fill="none"/><path d="M275.22 278.60L283.22 286.60M275.22 286.60L283.22 278.60" stroke="#067c06" stroke-width="0.9" fill="none"/><path d="M287.14 266.90L295.14 274.90M287.14 274.90L295.14 266.90" stroke="#067c06" stroke-width="0.9" fill="none"/><path d="M299.06 256.10L307.06 264.10M299.06 264.10L307.06 256.10" stroke="#067c06" stroke-width="0.9" fill="none"/><path d="M310.99 244.40L318.99 252.40M310.99 252.40L318.99 244.40" stroke="#067c06" stroke-width="0.9" fill="none"/><path d="M322.91 239.00L330.91 247.00M322.91 247.00L330.91 239.00" stroke="#067c06" stroke-width="0.9" fill="none"/><path d="M334.83 228.80L342.83 236.80M334.83 236.80L342.83 228.80" stroke="#067c06" stroke-width="0.9" fill="none"/><path d="M346.75 220.50L354.75 228.50M346.75 228.50L354.75 220.50" stroke="#067c06" stroke-width="0.9" fill="none"/><path d="M358.67 211.70L366.67 219.70M358.67 219.70L366.67 211.70" stroke="#067c06" stroke-width="0.9" fill="none"/><path d="M370.59 206.80L378.59 214.80M370.59 214.80L378.59 206.80" stroke="#067c06" stroke-width="0.9" fill="none"/><path d="M382.51 197.30L390.51 205.30M382.51 205.30L390.51 197.30" stroke="#067c06" stroke-width="0.9" fill="none"/><path d="M394.43 191.50L402.43 199.50M394.43 199.50L402.43 191.50" stroke="#067c06" stroke-width="0.9" fill="none"/><path d="M406.35 180.50L414.35 188.50M406.35 188.50L414.35 180.50" stroke="#067c06" stroke-width="0.9" fill="none"/><path d="M418.27 175.30L426.27 183.30M418.27 183.30L426.27 175.30" stroke="#067c06" stroke-width="0.9" fill="none"/><path d="M430.20 168.50L438.20 176.50M430.20 176.50L438.20 168.50" stroke="#067c06" stroke-width="0.9" fill="none"/><path d="M442.12 165.80L450.12 173.80M442.12 173.80L450.12 165.80" stroke="#067c06" stroke-width="0.9" fill="none"/><path d="M454.04 153.30L462.04 161.30M454.04 161.30L462.04 153.30" stroke="#067c06" stroke-width="0.9" fill="none"/><path d="M465.96 151.00L473.96 159.00M465.96 159.00L473.96 151.00" stroke="#067c06" stroke-width="0.9" fill="none"/><path d="M477.88 145.30L485.88 153.30M477.88 153.30L485.88 145.30" stroke="#067c06" stroke-width="0.9" fill="none"/><path d="M489.80 138.30L497.80 146.30M489.80 146.30L497.80 138.30" stroke="#067c06" stroke-width="0.9" fill="none"/><path d="M501.72 132.00L509.72 140.00M501.72 140.00L509.72 132.00" stroke="#067c06" stroke-width="0.9" fill="none"/><path d="M513.64 129.30L521.64 137.30M513.64 137.30L521.64 129.30" stroke="#067c06" stroke-width="0.9" fill="none"/><path d="M525.56 121.00L533.56 129.00M525.56 129.00L533.56 121.00" stroke="#067c06" stroke-width="0.9" fill="none"/><path d="M537.48 116.80L545.48 124.80M537.48 124.80L545.48 116.80" stroke="#067c06" stroke-width="0.9" fill="none"/><path d="M549.41 111.00L557.41 119.00M549.41 119.00L557.41 111.00" stroke="#067c06" stroke-width="0.9" fill="none"/><path d="M561.33 107.30L569.33 115.30M561.33 115.30L569.33 107.30" stroke="#067c06" stroke-width="0.9" fill="none"/><path d="M573.25 101.80L581.25 109.80M573.25 109.80L581.25 101.80" stroke="#067c06" stroke-width="0.9" fill="none"/><path d="M585.17 98.00L593.17 106.00M585.17 106.00L593.17 98.00" stroke="#067c06" stroke-width="0.9" fill="none"/><path d="M597.09 89.30L605.09 97.30M597.09 97.30L605.09 89.30" stroke="#067c06" stroke-width="0.9" fill="none"/><path d="M609.01 87.30L617.01 95.30M609.01 95.30L617.01 87.30" stroke="#067c06" stroke-width="0.9" fill="none"/><path d="M620.93 82.30L628.93 90.30M620.93 90.30L628.93 82.30" stroke="#067c06" stroke-width="0.9" fill="none"/><path d="M632.85 78.00L640.85 86.00M632.85 86.00L640.85 78.00" stroke="#067c06" stroke-width="0.9" fill="none"/><path d="M644.77 75.00L652.77 83.00M644.77 83.00L652.77 75.00" stroke="#067c06" stroke-width="0.9" fill="none"/>
<polyline points="124.25,383.00 136.17,362.30 148.09,346.00 160.01,331.50 171.93,333.00 183.85,324.00 195.78,322.50 207.70,317.00 219.62,298.00 231.54,298.00 243.46,293.00 255.38,286.80 267.30,276.60 279.22,273.40 291.14,260.70 303.06,256.90 314.99,247.80 326.91,246.30 338.83,240.00 350.75,235.00 362.67,230.50 374.59,219.80 386.51,216.00 398.43,215.00 410.35,209.50 422.27,202.00 434.20,199.00 446.12,196.30 458.04,187.50 469.96,180.80 481.88,177.50 493.80,176.60 505.72,170.00 517.64,169.50 529.56,163.30 541.48,160.00 553.41,156.80 565.33,153.30 577.25,147.50 589.17,147.00 601.09,138.00 613.01,140.50 624.93,138.00 636.85,133.20 648.77,132.00 660.69,129.80 672.62,125.00 684.54,124.80 696.46,115.80 708.38,115.80 720.30,112.50 732.22,112.00 744.14,111.30" fill="none" stroke="#f40a0a" stroke-width="1.4" stroke-linejoin="round"/>
<path d="M120.25 379.00L128.25 387.00M120.25 387.00L128.25 379.00" stroke="#f40a0a" stroke-width="0.9" fill="none"/><path d="M132.17 358.30L140.17 366.30M132.17 366.30L140.17 358.30" stroke="#f40a0a" stroke-width="0.9" fill="none"/><path d="M144.09 342.00L152.09 350.00M144.09 350.00L152.09 342.00" stroke="#f40a0a" stroke-width="0.9" fill="none"/><path d="M156.01 327.50L164.01 335.50M156.01 335.50L164.01 327.50" stroke="#f40a0a" stroke-width="0.9" fill="none"/><path d="M167.93 329.00L175.93 337.00M167.93 337.00L175.93 329.00" stroke="#f40a0a" stroke-width="0.9" fill="none"/><path d="M179.85 320.00L187.85 328.00M179.85 328.00L187.85 320.00" stroke="#f40a0a" stroke-width="0.9" fill="none"/><path d="M191.78 318.50L199.78 326.50M191.78 326.50L199.78 318.50" stroke="#f40a0a" stroke-width="0.9" fill="none"/><path d="M203.70 313.00L211.70 321.00M203.70 321.00L211.70 313.00" stroke="#f40a0a" stroke-width="0.9" fill="none"/><path d="M215.62 294.00L223.62 302.00M215.62 302.00L223.62 294.00" stroke="#f40a0a" stroke-width="0.9" fill="none"/><path d="M227.54 294.00L235.54 302.00M227.54 302.00L235.54 294.00" stroke="#f40a0a" stroke-width="0.9" fill="none"/><path d="M239.46 289.00L247.46 297.00M239.46 297.00L247.46 289.00" stroke="#f40a0a" stroke-width="0.9" fill="none"/><path d="M251.38 282.80L259.38 290.80M251.38 290.80L259.38 282.80" stroke="#f40a0a" stroke-width="0.9" fill="none"/><path d="M263.30 272.60L271.30 280.60M263.30 280.60L271.30 272.60" stroke="#f40a0a" stroke-width="0.9" fill="none"/><path d="M275.22 269.40L283.22 277.40M275.22 277.40L283.22 269.40" stroke="#f40a0a" stroke-width="0.9" fill="none"/><path d="M287.14 256.70L295.14 264.70M287.14 264.70L295.14 256.70" stroke="#f40a0a" stroke-width="0.9" fill="none"/><path d="M299.06 252.90L307.06 260.90M299.06 260.90L307.06 252.90" stroke="#f40a0a" stroke-width="0.9" fill="none"/><path d="M310.99 243.80L318.99 251.80M310.99 251.80L318.99 243.80" stroke="#f40a0a" stroke-width="0.9" fill="none"/><path d="M322.91 242.30L330.91 250.30M322.91 250.30L330.91 242.30" stroke="#f40a0a" stroke-width="0.9" fill="none"/><path d="M334.83 236.00L342.83 244.00M334.83 244.00L342.83 236.00" stroke="#f40a0a" stroke-width="0.9" fill="none"/><path d="M346.75 231.00L354.75 239.00M346.75 239.00L354.75 231.00" stroke="#f40a0a" stroke-width="0.9" fill="none"/><path d="M358.67 226.50L366.67 234.50M358.67 234.50L366.67 226.50" stroke="#f40a0a" stroke-width="0.9" fill="none"/><path d="M370.59 215.80L378.59 223.80M370.59 223.80L378.59 215.80" stroke="#f40a0a" stroke-width="0.9" fill="none"/><path d="M382.51 212.00L390.51 220.00M382.51 220.00L390.51 212.00" stroke="#f40a0a" stroke-width="0.9" fill="none"/><path d="M394.43 211.00L402.43 219.00M394.43 219.00L402.43 211.00" stroke="#f40a0a" stroke-width="0.9" fill="none"/><path d="M406.35 205.50L414.35 213.50M406.35 213.50L414.35 205.50" stroke="#f40a0a" stroke-width="0.9" fill="none"/><path d="M418.27 198.00L426.27 206.00M418.27 206.00L426.27 198.00" stroke="#f40a0a" stroke-width="0.9" fill="none"/><path d="M430.20 195.00L438.20 203.00M430.20 203.00L438.20 195.00" stroke="#f40a0a" stroke-width="0.9" fill="none"/><path d="M442.12 192.30L450.12 200.30M442.12 200.30L450.12 192.30" stroke="#f40a0a" stroke-width="0.9" fill="none"/><path d="M454.04 183.50L462.04 191.50M454.04 191.50L462.04 183.50" stroke="#f40a0a" stroke-width="0.9" fill="none"/><path d="M465.96 176.80L473.96 184.80M465.96 184.80L473.96 176.80" stroke="#f40a0a" stroke-width="0.9" fill="none"/><path d="M477.88 173.50L485.88 181.50M477.88 181.50L485.88 173.50" stroke="#f40a0a" stroke-width="0.9" fill="none"/><path d="M489.80 172.60L497.80 180.60M489.80 180.60L497.80 172.60" stroke="#f40a0a" stroke-width="0.9" fill="none"/><path d="M501.72 166.00L509.72 174.00M501.72 174.00L509.72 166.00" stroke="#f40a0a" stroke-width="0.9" fill="none"/><path d="M513.64 165.50L521.64 173.50M513.64 173.50L521.64 165.50" stroke="#f40a0a" stroke-width="0.9" fill="none"/><path d="M525.56 159.30L533.56 167.30M525.56 167.30L533.56 159.30" stroke="#f40a0a" stroke-width="0.9" fill="none"/><path d="M537.48 156.00L545.48 164.00M537.48 164.00L545.48 156.00" stroke="#f40a0a" stroke-width="0.9" fill="none"/><path d="M549.41 152.80L557.41 160.80M549.41 160.80L557.41 152.80" stroke="#f40a0a" stroke-width="0.9" fill="none"/><path d="M561.33 149.30L569.33 157.30M561.33 157.30L569.33 149.30" stroke="#f40a0a" stroke-width="0.9" fill="none"/><path d="M573.25 143.50L581.25 151.50M573.25 151.50L581.25 143.50" stroke="#f40a0a" stroke-width="0.9" fill="none"/><path d="M585.17 143.00L593.17 151.00M585.17 151.00L593.17 143.00" stroke="#f40a0a" stroke-width="0.9" fill="none"/><path d="M597.09 134.00L605.09 142.00M597.09 142.00L605.09 134.00" stroke="#f40a0a" stroke-width="0.9" fill="none"/><path d="M609.01 136.50L617.01 144.50M609.01 144.50L617.01 136.50" stroke="#f40a0a" stroke-width="0.9" fill="none"/><path d="M620.93 134.00L628.93 142.00M620.93 142.00L628.93 134.00" stroke="#f40a0a" stroke-width="0.9" fill="none"/><path d="M632.85 129.20L640.85 137.20M632.85 137.20L640.85 129.20" stroke="#f40a0a" stroke-width="0.9" fill="none"/><path d="M644.77 128.00L652.77 136.00M644.77 136.00L652.77 128.00" stroke="#f40a0a" stroke-width="0.9" fill="none"/><path d="M656.69 125.80L664.69 133.80M656.69 133.80L664.69 125.80" stroke="#f40a0a" stroke-width="0.9" fill="none"/><path d="M668.62 121.00L676.62 129.00M668.62 129.00L676.62 121.00" stroke="#f40a0a" stroke-width="0.9" fill="none"/><path d="M680.54 120.80L688.54 128.80M680.54 128.80L688.54 120.80" stroke="#f40a0a" stroke-width="0.9" fill="none"/><path d="M692.46 111.80L700.46 119.80M692.46 119.80L700.46 111.80" stroke="#f40a0a" stroke-width="0.9" fill="none"/><path d="M704.38 111.80L712.38 119.80M704.38 119.80L712.38 111.80" stroke="#f40a0a" stroke-width="0.9" fill="none"/><path d="M716.30 108.50L724.30 116.50M716.30 116.50L724.30 108.50" stroke="#f40a0a" stroke-width="0.9" fill="none"/><path d="M728.22 108.00L736.22 116.00M728.22 116.00L736.22 108.00" stroke="#f40a0a" stroke-width="0.9" fill="none"/><path d="M740.14 107.30L748.14 115.30M740.14 115.30L748.14 107.30" stroke="#f40a0a" stroke-width="0.9" fill="none"/>
<polyline points="124.25,397.00 136.17,401.50 148.09,384.50 160.01,431.00 171.93,378.50 183.85,409.10 195.78,366.50 207.70,387.00 219.62,371.00 231.54,433.50 243.46,411.40 255.38,421.20 267.30,396.00 279.22,405.70 291.14,393.10 303.06,393.50 314.99,369.20 326.91,383.80 338.83,373.10 350.75,370.90 362.67,356.70 374.59,366.70 386.51,347.20 398.43,357.30 410.35,339.30 422.27,344.00 434.20,336.60 446.12,338.50 458.04,311.80 469.96,328.80 481.88,319.00 493.80,319.40 505.72,301.30 517.64,312.50 529.56,300.00 541.48,305.00 553.41,289.50 565.33,294.50 577.25,288.80 589.17,291.80 601.09,269.50 613.01,283.80 624.93,272.50 636.85,276.50 648.77,265.00 660.69,274.00 672.62,261.50 684.54,265.00 696.46,252.50 708.38,260.50 720.30,254.50 732.22,258.30 744.14,237.50" fill="none" stroke="#06b8bc" stroke-width="1.4" stroke-linejoin="round"/>
<path d="M120.25 393.00L128.25 401.00M120.25 401.00L128.25 393.00" stroke="#06b8bc" stroke-width="0.9" fill="none"/><path d="M132.17 397.50L140.17 405.50M132.17 405.50L140.17 397.50" stroke="#06b8bc" stroke-width="0.9" fill="none"/><path d="M144.09 380.50L152.09 388.50M144.09 388.50L152.09 380.50" stroke="#06b8bc" stroke-width="0.9" fill="none"/><path d="M156.01 427.00L164.01 435.00M156.01 435.00L164.01 427.00" stroke="#06b8bc" stroke-width="0.9" fill="none"/><path d="M167.93 374.50L175.93 382.50M167.93 382.50L175.93 374.50" stroke="#06b8bc" stroke-width="0.9" fill="none"/><path d="M179.85 405.10L187.85 413.10M179.85 413.10L187.85 405.10" stroke="#06b8bc" stroke-width="0.9" fill="none"/><path d="M191.78 362.50L199.78 370.50M191.78 370.50L199.78 362.50" stroke="#06b8bc" stroke-width="0.9" fill="none"/><path d="M203.70 383.00L211.70 391.00M203.70 391.00L211.70 383.00" stroke="#06b8bc" stroke-width="0.9" fill="none"/><path d="M215.62 367.00L223.62 375.00M215.62 375.00L223.62 367.00" stroke="#06b8bc" stroke-width="0.9" fill="none"/><path d="M227.54 429.50L235.54 437.50M227.54 437.50L235.54 429.50" stroke="#06b8bc" stroke-width="0.9" fill="none"/><path d="M239.46 407.40L247.46 415.40M239.46 415.40L247.46 407.40" stroke="#06b8bc" stroke-width="0.9" fill="none"/><path d="M251.38 417.20L259.38 425.20M251.38 425.20L259.38 417.20" stroke="#06b8bc" stroke-width="0.9" fill="none"/><path d="M263.30 392.00L271.30 400.00M263.30 400.00L271.30 392.00" stroke="#06b8bc" stroke-width="0.9" fill="none"/><path d="M275.22 401.70L283.22 409.70M275.22 409.70L283.22 401.70" stroke="#06b8bc" stroke-width="0.9" fill="none"/><path d="M287.14 389.10L295.14 397.10M287.14 397.10L295.14 389.10" stroke="#06b8bc" stroke-width="0.9" fill="none"/><path d="M299.06 389.50L307.06 397.50M299.06 397.50L307.06 389.50" stroke="#06b8bc" stroke-width="0.9" fill="none"/><path d="M310.99 365.20L318.99 373.20M310.99 373.20L318.99 365.20" stroke="#06b8bc" stroke-width="0.9" fill="none"/><path d="M322.91 379.80L330.91 387.80M322.91 387.80L330.91 379.80" stroke="#06b8bc" stroke-width="0.9" fill="none"/><path d="M334.83 369.10L342.83 377.10M334.83 377.10L342.83 369.10" stroke="#06b8bc" stroke-width="0.9" fill="none"/><path d="M346.75 366.90L354.75 374.90M346.75 374.90L354.75 366.90" stroke="#06b8bc" stroke-width="0.9" fill="none"/><path d="M358.67 352.70L366.67 360.70M358.67 360.70L366.67 352.70" stroke="#06b8bc" stroke-width="0.9" fill="none"/><path d="M370.59 362.70L378.59 370.70M370.59 370.70L378.59 362.70" stroke="#06b8bc" stroke-width="0.9" fill="none"/><path d="M382.51 343.20L390.51 351.20M382.51 351.20L390.51 343.20" stroke="#06b8bc" stroke-width="0.9" fill="none"/><path d="M394.43 353.30L402.43 361.30M394.43 361.30L402.43 353.30" stroke="#06b8bc" stroke-width="0.9" fill="none"/><path d="M406.35 335.30L414.35 343.30M406.35 343.30L414.35 335.30" stroke="#06b8bc" stroke-width="0.9" fill="none"/><path d="M418.27 340.00L426.27 348.00M418.27 348.00L426.27 340.00" stroke="#06b8bc" stroke-width="0.9" fill="none"/><path d="M430.20 332.60L438.20 340.60M430.20 340.60L438.20 332.60" stroke="#06b8bc" stroke-width="0.9" fill="none"/><path d="M442.12 334.50L450.12 342.50M442.12 342.50L450.12 334.50" stroke="#06b8bc" stroke-width="0.9" fill="none"/><path d="M454.04 307.80L462.04 315.80M454.04 315.80L462.04 307.80" stroke="#06b8bc" stroke-width="0.9" fill="none"/><path d="M465.96 324.80L473.96 332.80M465.96 332.80L473.96 324.80" stroke="#06b8bc" stroke-width="0.9" fill="none"/><path d="M477.88 315.00L485.88 323.00M477.88 323.00L485.88 315.00" stroke="#06b8bc" stroke-width="0.9" fill="none"/><path d="M489.80 315.40L497.80 323.40M489.80 323.40L497.80 315.40" stroke="#06b8bc" stroke-width="0.9" fill="none"/><path d="M501.72 297.30L509.72 305.30M501.72 305.30L509.72 297.30" stroke="#06b8bc" stroke-width="0.9" fill="none"/><path d="M513.64 308.50L521.64 316.50M513.64 316.50L521.64 308.50" stroke="#06b8bc" stroke-width="0.9" fill="none"/><path d="M525.56 296.00L533.56 304.00M525.56 304.00L533.56 296.00" stroke="#06b8bc" stroke-width="0.9" fill="none"/><path d="M537.48 301.00L545.48 309.00M537.48 309.00L545.48 301.00" stroke="#06b8bc" stroke-width="0.9" fill="none"/><path d="M549.41 285.50L557.41 293.50M549.41 293.50L557.41 285.50" stroke="#06b8bc" stroke-width="0.9" fill="none"/><path d="M561.33 290.50L569.33 298.50M561.33 298.50L569.33 290.50" stroke="#06b8bc" stroke-width="0.9" fill="none"/><path d="M573.25 284.80L581.25 292.80M573.25 292.80L581.25 284.80" stroke="#06b8bc" stroke-width="0.9" fill="none"/><path d="M585.17 287.80L593.17 295.80M585.17 295.80L593.17 287.80" stroke="#06b8bc" stroke-width="0.9" fill="none"/><path d="M597.09 265.50L605.09 273.50M597.09 273.50L605.09 265.50" stroke="#06b8bc" stroke-width="0.9" fill="none"/><path d="M609.01 279.80L617.01 287.80M609.01 287.80L617.01 279.80" stroke="#06b8bc" stroke-width="0.9" fill="none"/><path d="M620.93 268.50L628.93 276.50M620.93 276.50L628.93 268.50" stroke="#06b8bc" stroke-width="0.9" fill="none"/><path d="M632.85 272.50L640.85 280.50M632.85 280.50L640.85 272.50" stroke="#06b8bc" stroke-width="0.9" fill="none"/><path d="M644.77 261.00L652.77 269.00M644.77 269.00L652.77 261.00" stroke="#06b8bc" stroke-width="0.9" fill="none"/><path d="M656.69 270.00L664.69 278.00M656.69 278.00L664.69 270.00" stroke="#06b8bc" stroke-width="0.9" fill="none"/><path d="M668.62 257.50L676.62 265.50M668.62 265.50L676.62 257.50" stroke="#06b8bc" stroke-width="0.9" fill="none"/><path d="M680.54 261.00L688.54 269.00M680.54 269.00L688.54 261.00" stroke="#06b8bc" stroke-width="0.9" fill="none"/><path d="M692.46 248.50L700.46 256.50M692.46 256.50L700.46 248.50" stroke="#06b8bc" stroke-width="0.9" fill="none"/><path d="M704.38 256.50L712.38 264.50M704.38 264.50L712.38 256.50" stroke="#06b8bc" stroke-width="0.9" fill="none"/><path d="M716.30 250.50L724.30 258.50M716.30 258.50L724.30 250.50" stroke="#06b8bc" stroke-width="0.9" fill="none"/><path d="M728.22 254.30L736.22 262.30M728.22 262.30L736.22 254.30" stroke="#06b8bc" stroke-width="0.9" fill="none"/><path d="M740.14 233.50L748.14 241.50M740.14 241.50L748.14 233.50" stroke="#06b8bc" stroke-width="0.9" fill="none"/>
</g>
<path d="M124.50 525.5v-6.2M124.50 60.5v6.2M148.50 525.5v-6.2M148.50 60.5v6.2M171.50 525.5v-6.2M171.50 60.5v6.2M195.50 525.5v-6.2M195.50 60.5v6.2M219.50 525.5v-6.2M219.50 60.5v6.2M243.50 525.5v-6.2M243.50 60.5v6.2M267.50 525.5v-6.2M267.50 60.5v6.2M291.50 525.5v-6.2M291.50 60.5v6.2M314.50 525.5v-6.2M314.50 60.5v6.2M338.50 525.5v-6.2M338.50 60.5v6.2M362.50 525.5v-6.2M362.50 60.5v6.2M386.50 525.5v-6.2M386.50 60.5v6.2M410.50 525.5v-6.2M410.50 60.5v6.2M434.50 525.5v-6.2M434.50 60.5v6.2M458.50 525.5v-6.2M458.50 60.5v6.2M481.50 525.5v-6.2M481.50 60.5v6.2M505.50 525.5v-6.2M505.50 60.5v6.2M529.50 525.5v-6.2M529.50 60.5v6.2M553.50 525.5v-6.2M553.50 60.5v6.2M577.50 525.5v-6.2M577.50 60.5v6.2M601.50 525.5v-6.2M601.50 60.5v6.2M624.50 525.5v-6.2M624.50 60.5v6.2M648.50 525.5v-6.2M648.50 60.5v6.2M672.50 525.5v-6.2M672.50 60.5v6.2M696.50 525.5v-6.2M696.50 60.5v6.2M720.50 525.5v-6.2M720.50 60.5v6.2M744.50 525.5v-6.2M744.50 60.5v6.2M124.5 525.50h6.2M744.5 525.50h-6.2M124.5 263.50h6.2M744.5 263.50h-6.2M124.5 446.50h3M744.5 446.50h-3M124.5 400.50h3M744.5 400.50h-3M124.5 367.50h3M744.5 367.50h-3M124.5 342.50h3M744.5 342.50h-3M124.5 321.50h3M744.5 321.50h-3M124.5 304.50h3M744.5 304.50h-3M124.5 288.50h3M744.5 288.50h-3M124.5 275.50h3M744.5 275.50h-3M124.5 184.50h3M744.5 184.50h-3M124.5 138.50h3M744.5 138.50h-3M124.5 106.50h3M744.5 106.50h-3M124.5 80.50h3M744.5 80.50h-3" stroke="#000" stroke-width="0.9" fill="none"/>
<rect x="124.5" y="60.5" width="620.0" height="465.0" fill="none" stroke="#000" stroke-width="1.35"/>
<g font-family="DejaVu Sans, Liberation Sans, sans-serif" style="font-variant-ligatures:none;font-kerning:none" fill="#000">
<text x="433.4" y="52.6" font-size="15.32" text-anchor="middle">Average execution time to find each primitive polynomial for the first 2000 of them</text>
<text x="433.2" y="562" font-size="13.92" text-anchor="middle">primitive polynomial degree</text>
<text transform="translate(77.5 293.9) rotate(-90)" font-size="13.92" text-anchor="middle">execution time per polynomial (msec)</text>
<text transform="translate(123.47 541.7) scale(1 1.08)" font-size="13" text-anchor="middle">8</text>
<text transform="translate(147.60 541.7) scale(1 1.08)" font-size="13" text-anchor="middle">10</text>
<text transform="translate(171.60 541.7) scale(1 1.08)" font-size="13" text-anchor="middle">12</text>
<text transform="translate(195.60 541.7) scale(1 1.08)" font-size="13" text-anchor="middle">14</text>
<text transform="translate(218.60 541.7) scale(1 1.08)" font-size="13" text-anchor="middle">16</text>
<text transform="translate(242.60 541.7) scale(1 1.08)" font-size="13" text-anchor="middle">18</text>
<text transform="translate(266.60 541.7) scale(1 1.08)" font-size="13" text-anchor="middle">20</text>
<text transform="translate(290.60 541.7) scale(1 1.08)" font-size="13" text-anchor="middle">22</text>
<text transform="translate(314.60 541.7) scale(1 1.08)" font-size="13" text-anchor="middle">24</text>
<text transform="translate(338.60 541.7) scale(1 1.08)" font-size="13" text-anchor="middle">26</text>
<text transform="translate(361.60 541.7) scale(1 1.08)" font-size="13" text-anchor="middle">28</text>
<text transform="translate(385.60 541.7) scale(1 1.08)" font-size="13" text-anchor="middle">30</text>
<text transform="translate(409.60 541.7) scale(1 1.08)" font-size="13" text-anchor="middle">32</text>
<text transform="translate(433.60 541.7) scale(1 1.08)" font-size="13" text-anchor="middle">34</text>
<text transform="translate(457.60 541.7) scale(1 1.08)" font-size="13" text-anchor="middle">36</text>
<text transform="translate(481.60 541.7) scale(1 1.08)" font-size="13" text-anchor="middle">38</text>
<text transform="translate(504.60 541.7) scale(1 1.08)" font-size="13" text-anchor="middle">40</text>
<text transform="translate(528.60 541.7) scale(1 1.08)" font-size="13" text-anchor="middle">42</text>
<text transform="translate(552.60 541.7) scale(1 1.08)" font-size="13" text-anchor="middle">44</text>
<text transform="translate(576.60 541.7) scale(1 1.08)" font-size="13" text-anchor="middle">46</text>
<text transform="translate(600.60 541.7) scale(1 1.08)" font-size="13" text-anchor="middle">48</text>
<text transform="translate(624.60 541.7) scale(1 1.08)" font-size="13" text-anchor="middle">50</text>
<text transform="translate(648.60 541.7) scale(1 1.08)" font-size="13" text-anchor="middle">52</text>
<text transform="translate(671.60 541.7) scale(1 1.08)" font-size="13" text-anchor="middle">54</text>
<text transform="translate(695.60 541.7) scale(1 1.08)" font-size="13" text-anchor="middle">56</text>
<text transform="translate(719.60 541.7) scale(1 1.08)" font-size="13" text-anchor="middle">58</text>
<text transform="translate(743.60 541.7) scale(1 1.08)" font-size="13" text-anchor="middle">60</text>
<text transform="translate(109.7 269.2) scale(1 1.06)" font-size="13" text-anchor="end">10</text><text x="110.8" y="262.9" font-size="10.2">0</text>
<text transform="translate(106.7 531.4) scale(1 1.06)" font-size="13" text-anchor="end">10</text><text x="107.4" y="525" font-size="10.2">-1</text>
<rect x="540.5" y="365.6" width="197.1" height="153.2" fill="#fff" stroke="#000" stroke-width="1.35"/>
<path d="M549.5 376.50H567.5" stroke="#0808e8" stroke-width="1.4"/>
<rect x="547.20" y="374.20" width="4.6" height="4.6" fill="#00008b"/><rect x="565.20" y="374.20" width="4.6" height="4.6" fill="#00008b"/>
<text x="581.4" y="381.00" font-size="12.36">sieve_1</text>
<path d="M549.5 389.50H567.5" stroke="#067c06" stroke-width="1.4"/>
<circle cx="549.50" cy="389.50" r="2.6" fill="#067c06"/><circle cx="567.50" cy="389.50" r="2.6" fill="#067c06"/>
<text x="581.4" y="394.00" font-size="12.36">construct_1</text>
<path d="M549.5 402.50H567.5" stroke="#f40a0a" stroke-width="1.4"/>
<circle cx="549.50" cy="402.50" r="2.6" fill="#f40a0a"/><circle cx="567.50" cy="402.50" r="2.6" fill="#f40a0a"/>
<text x="581.4" y="407.00" font-size="12.36">construct_2</text>
<path d="M549.5 415.50H567.5" stroke="#06b8bc" stroke-width="1.4"/>
<circle cx="549.50" cy="415.50" r="2.6" fill="#06b8bc"/><circle cx="567.50" cy="415.50" r="2.6" fill="#06b8bc"/>
<text x="581.4" y="420.00" font-size="12.36">construct_3</text>
<path d="M549.5 428.50H567.5" stroke="#bb06bb" stroke-width="1.4"/>
<circle cx="549.50" cy="428.50" r="2.6" fill="#bb06bb"/><circle cx="567.50" cy="428.50" r="2.6" fill="#bb06bb"/>
<text x="581.4" y="433.00" font-size="12.36">construct_4</text>
<path d="M549.5 441.50H567.5" stroke="#bcbc06" stroke-width="1.4"/>
<circle cx="549.50" cy="441.50" r="2.6" fill="#bcbc06"/><circle cx="567.50" cy="441.50" r="2.6" fill="#bcbc06"/>
<text x="581.4" y="446.00" font-size="12.36">construct_5</text>
<path d="M549.5 454.50H567.5" stroke="#000000" stroke-width="1.4"/>
<circle cx="549.50" cy="454.50" r="2.6" fill="#000000"/><circle cx="567.50" cy="454.50" r="2.6" fill="#000000"/>
<text x="581.4" y="459.00" font-size="12.36">construct_6</text>
<path d="M549.5 467.50H567.5" stroke="#0808e8" stroke-width="1.4"/>
<path d="M545.50 463.50L553.50 471.50M545.50 471.50L553.50 463.50" stroke="#0808e8" stroke-width="0.9" fill="none"/><path d="M563.50 463.50L571.50 471.50M563.50 471.50L571.50 463.50" stroke="#0808e8" stroke-width="0.9" fill="none"/>
<text x="581.4" y="472.00" font-size="12.36">construct_st_ives</text>
<path d="M549.5 480.50H567.5" stroke="#067c06" stroke-width="1.4"/>
<path d="M545.50 476.50L553.50 484.50M545.50 484.50L553.50 476.50" stroke="#067c06" stroke-width="0.9" fill="none"/><path d="M563.50 476.50L571.50 484.50M563.50 484.50L571.50 476.50" stroke="#067c06" stroke-width="0.9" fill="none"/>
<text x="581.4" y="485.00" font-size="12.36">construct_gordon</text>
<path d="M549.5 493.50H567.5" stroke="#f40a0a" stroke-width="1.4"/>
<path d="M545.50 489.50L553.50 497.50M545.50 497.50L553.50 489.50" stroke="#f40a0a" stroke-width="0.9" fill="none"/><path d="M563.50 489.50L571.50 497.50M563.50 497.50L571.50 489.50" stroke="#f40a0a" stroke-width="0.9" fill="none"/>
<text x="581.4" y="498.00" font-size="12.36">construct_shoup</text>
<path d="M549.5 506.50H567.5" stroke="#06b8bc" stroke-width="1.4"/>
<path d="M545.50 502.50L553.50 510.50M545.50 510.50L553.50 502.50" stroke="#06b8bc" stroke-width="0.9" fill="none"/><path d="M563.50 502.50L571.50 510.50M563.50 510.50L571.50 502.50" stroke="#06b8bc" stroke-width="0.9" fill="none"/>
<text x="581.4" y="511.00" font-size="12.36">construct_falling_coyote</text>
</g>
</svg>
</body></html>
